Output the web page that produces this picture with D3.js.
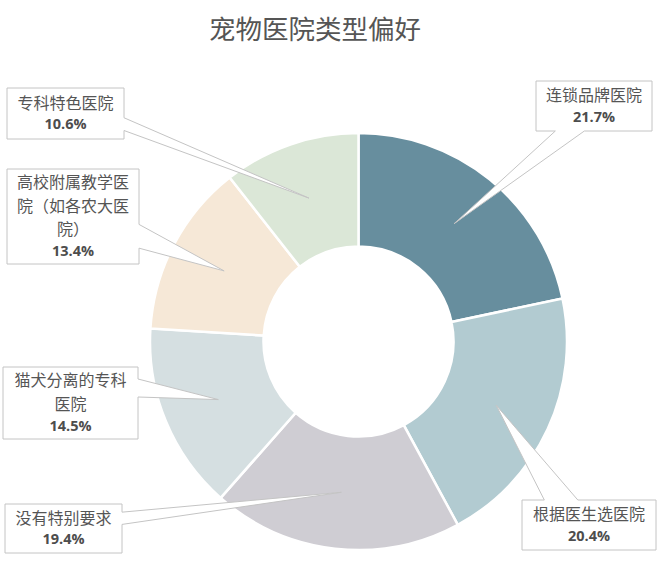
<!DOCTYPE html>
<html>
<head>
<meta charset="utf-8">
<script src="https://cdn.jsdelivr.net/npm/d3@7/dist/d3.min.js"></script>
<style>
  html, body { margin: 0; padding: 0; background: #ffffff; }
  svg { display: block; }
</style>
</head>
<body>
<svg id="chart" width="665" height="579"></svg>
<script>
// ---- data ----
const title = "宠物医院类型偏好";
const categories = [
  "连锁品牌医院",
  "根据医生选医院",
  "没有特别要求",
  "猫犬分离的专科医院",
  "高校附属教学医院（如各农大医院）",
  "专科特色医院"
];
const values = [21.7, 20.4, 19.4, 14.5, 13.4, 10.6];
const colors = ["#678e9e", "#b2cbd1", "#cfcdd3", "#d5dfe1", "#f6e8d7", "#dbe7d7"];

// ---- layout (label boxes) ----
const boxes = [
  { x: 536, y: 81,  w: 116, h: 50, wrap: 6 },
  { x: 522, y: 500, w: 134, h: 50, wrap: 7 },
  { x: 5,   y: 504, w: 117, h: 49, wrap: 7 },
  { x: 3,   y: 367, w: 135, h: 72, wrap: 7 },
  { x: 7,   y: 169, w: 132, h: 95, wrap: 7 },
  { x: 7,   y: 88,  w: 117, h: 51, wrap: 7 }
];

const svg = d3.select("#chart");
const cx = 358.5, cy = 341.5, rOuter = 208.5, rInner = 95;
const FONT = "'Noto Sans CJK SC', 'Noto Sans', sans-serif";

svg.append("text")
  .attr("x", 315).attr("y", 39)
  .attr("text-anchor", "middle")
  .attr("font-family", FONT)
  .attr("font-size", 26.5)
  .attr("fill", "#555555")
  .text(title);

const data = categories.map((c, i) => ({ name: c, value: values[i], color: colors[i], box: boxes[i] }));

const pie = d3.pie().value(d => d.value).sort(null);
const arc = d3.arc().innerRadius(rInner).outerRadius(rOuter);
const arcs = pie(data);

const g = svg.append("g").attr("transform", `translate(${cx},${cy})`);
g.selectAll("path.slice")
  .data(arcs)
  .join("path")
  .attr("class", "slice")
  .attr("d", arc)
  .attr("fill", d => d.data.color)
  .attr("stroke", "#ffffff")
  .attr("stroke-width", 2.5);

// Excel-like wedge rectangle callout
function calloutPath(b, tx, ty) {
  const x0 = b.x, y0 = b.y, x1 = b.x + b.w, y1 = b.y + b.h;
  const bcx = b.x + b.w / 2, bcy = b.y + b.h / 2;
  const dx = tx - bcx, dy = ty - bcy;
  const pts = [];
  if (Math.abs(dx) / b.w > Math.abs(dy) / b.h) {
    const f = dy < 0 ? [2 / 12, 5 / 12] : [7 / 12, 10 / 12];
    const ya = y0 + b.h * f[0], yb = y0 + b.h * f[1];
    if (dx > 0) {
      pts.push([x0, y0], [x1, y0], [x1, ya], [tx, ty], [x1, yb], [x1, y1], [x0, y1]);
    } else {
      pts.push([x0, y0], [x1, y0], [x1, y1], [x0, y1], [x0, yb], [tx, ty], [x0, ya]);
    }
  } else {
    const f = dx < 0 ? [2 / 12, 5 / 12] : [7 / 12, 10 / 12];
    const xa = x0 + b.w * f[0], xb = x0 + b.w * f[1];
    if (dy > 0) {
      pts.push([x0, y0], [x1, y0], [x1, y1], [xb, y1], [tx, ty], [xa, y1], [x0, y1]);
    } else {
      pts.push([x0, y0], [xa, y0], [tx, ty], [xb, y0], [x1, y0], [x1, y1], [x0, y1]);
    }
  }
  return "M" + pts.map(p => p.join(",")).join("L") + "Z";
}

function wrapText(s, n) {
  const chars = Array.from(s);
  const lines = [];
  for (let i = 0; i < chars.length; i += n) lines.push(chars.slice(i, i + n).join(""));
  return lines;
}

const lab = svg.append("g");
arcs.forEach(a => {
  const c = arc.centroid(a);
  const tx = cx + c[0], ty = cy + c[1];
  const b = a.data.box;
  lab.append("path")
    .attr("d", calloutPath(b, tx, ty))
    .attr("fill", "#ffffff")
    .attr("stroke", "#c4c4c4")
    .attr("stroke-width", 1);
  const lines = wrapText(a.data.name, b.wrap);
  const lh = 23.3;      // between label lines
  const lp = 21.5;      // between last label line and percent
  const span = (lines.length - 1) * lh + lp;
  const midY = b.y + b.h / 2;
  const firstY = midY - span / 2;
  const tcx = b.x + b.w / 2;
  lines.forEach((ln, i) => {
    lab.append("text")
      .attr("x", tcx).attr("y", firstY + i * lh)
      .attr("dy", "0.36em")
      .attr("text-anchor", "middle")
      .attr("font-family", FONT)
      .attr("font-size", 16)
      .attr("fill", "#555555")
      .text(ln);
  });
  lab.append("text")
    .attr("x", tcx).attr("y", firstY + (lines.length - 1) * lh + lp)
    .attr("dy", "0.36em")
    .attr("text-anchor", "middle")
    .attr("font-family", "'Open Sans', 'Noto Sans', sans-serif")
    .attr("font-weight", "bold")
    .attr("font-size", 14.5)
    .attr("fill", "#4d4d4d")
    .text(d3.format(".1f")(a.data.value) + "%");
});
</script>
</body>
</html>
